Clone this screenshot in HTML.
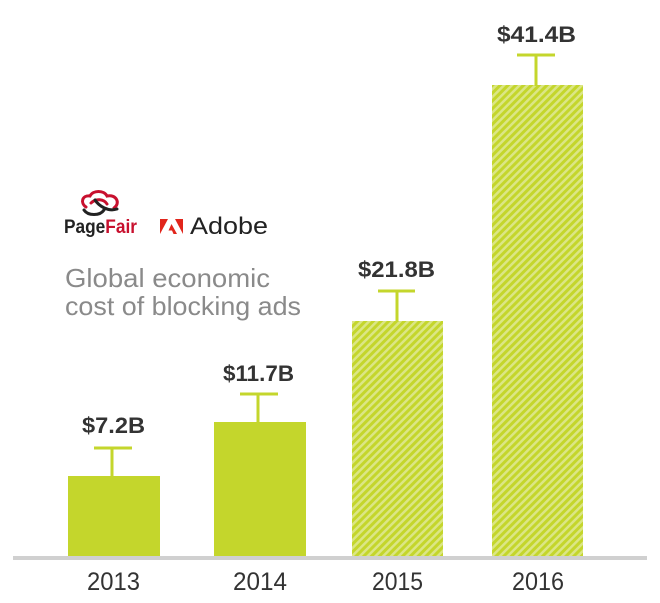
<!DOCTYPE html>
<html><head><meta charset="utf-8"><style>
html,body{margin:0;padding:0;background:#fff;}
svg{display:block;}
</style></head><body>
<svg width="660" height="603" viewBox="0 0 660 603" xmlns="http://www.w3.org/2000/svg">
<defs>
<pattern id="st" patternUnits="userSpaceOnUse" width="5.5" height="5.5" patternTransform="rotate(45)">
<rect x="0" y="0" width="5.5" height="5.5" fill="#dbe685"/>
<rect x="0" y="0" width="3" height="5.5" fill="#c4d62c"/>
</pattern>
</defs>
<rect width="660" height="603" fill="#fff"/>
<!-- axis -->
<rect x="13" y="556" width="634" height="4" fill="#d0d0d0"/>
<!-- bars -->
<rect x="68" y="476" width="92" height="80" fill="#c4d62c"/>
<rect x="214" y="422" width="92" height="134" fill="#c4d62c"/>
<rect x="352" y="321" width="91" height="235" fill="url(#st)"/>
<rect x="492" y="85" width="91" height="471" fill="url(#st)"/>
<!-- error bars -->
<g fill="#c4d62c">
<rect x="94" y="446.5" width="38" height="3"/><rect x="110.5" y="447" width="3" height="30"/>
<rect x="240" y="392.5" width="38" height="3"/><rect x="256.5" y="393" width="3" height="30"/>
<rect x="378" y="289.5" width="37" height="3"/><rect x="395.5" y="290" width="3" height="32"/>
<rect x="517" y="53.5" width="38" height="3"/><rect x="534.5" y="54" width="3" height="32"/>
</g>
<!-- value labels -->
<g font-family="Liberation Sans, sans-serif" font-weight="bold" font-size="22" fill="#333">
<text x="82" y="433" textLength="63" lengthAdjust="spacingAndGlyphs">$7.2B</text>
<text x="223" y="381" textLength="71" lengthAdjust="spacingAndGlyphs">$11.7B</text>
<text x="358" y="277" textLength="77" lengthAdjust="spacingAndGlyphs">$21.8B</text>
<text x="497" y="42" textLength="79" lengthAdjust="spacingAndGlyphs">$41.4B</text>
</g>
<!-- year labels -->
<g font-family="Liberation Sans, sans-serif" font-size="25" fill="#333">
<text x="87" y="590" textLength="53" lengthAdjust="spacingAndGlyphs">2013</text>
<text x="233" y="590" textLength="54" lengthAdjust="spacingAndGlyphs">2014</text>
<text x="372" y="590" textLength="51" lengthAdjust="spacingAndGlyphs">2015</text>
<text x="512" y="590" textLength="52" lengthAdjust="spacingAndGlyphs">2016</text>
</g>
<!-- title -->
<g font-family="Liberation Sans, sans-serif" font-size="26" fill="#8a8a8a">
<text x="65" y="287" textLength="205" lengthAdjust="spacingAndGlyphs">Global economic</text>
<text x="65" y="315" textLength="236" lengthAdjust="spacingAndGlyphs">cost of blocking ads</text>
</g>
<!-- PageFair logo -->
<g fill="none" stroke-width="3" stroke-linecap="round">
<path d="M86 207 C80 203 82 195 90 196 C93 190 104 190 107 196 C116 194 121 203 114 208" stroke="#c8102e"/>
<path d="M91 203 C96 198 104 199 107 204" stroke="#c8102e"/>
<path d="M84 210 C88 216 100 216 104 210" stroke="#222"/>
<path d="M95 200 C99 206 108 212 117 209" stroke="#222"/>
</g>
<text x="64" y="233" font-family="Liberation Sans, sans-serif" font-weight="bold" font-size="19" textLength="73" lengthAdjust="spacingAndGlyphs"><tspan fill="#222">Page</tspan><tspan fill="#c8102e">Fair</tspan></text>
<!-- Adobe logo -->
<g fill="#e1251b">
<polygon points="160,219 168,219 160,234"/>
<polygon points="175,219 183,219 183,234"/>
<polygon points="171.5,224 177,234 173.5,234 172,230.5 168.5,230.5"/>
</g>
<text x="190" y="234" font-family="Liberation Sans, sans-serif" font-size="24" fill="#222" textLength="78" lengthAdjust="spacingAndGlyphs">Adobe</text>
</svg>
</body></html>
